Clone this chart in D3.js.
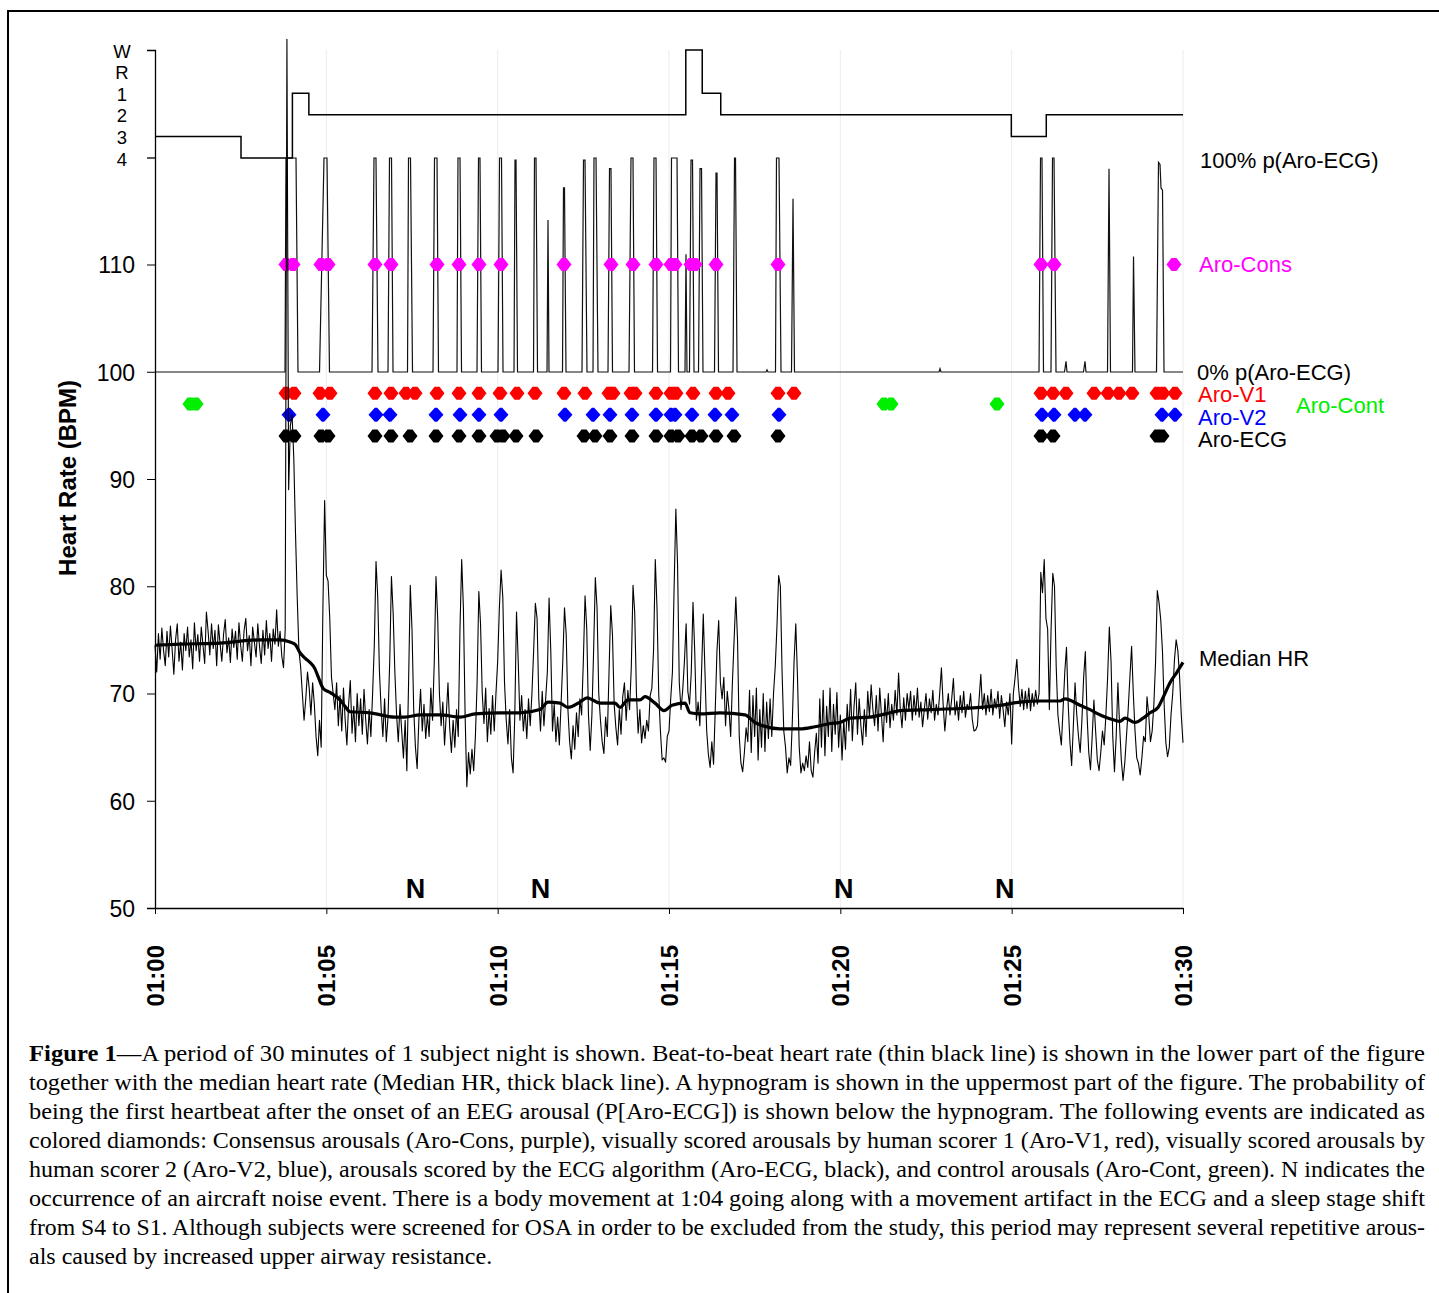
<!DOCTYPE html>
<html><head><meta charset="utf-8">
<script src="https://cdn.jsdelivr.net/npm/d3@7"></script>
<style>body{margin:0;background:#fff}svg{display:block}text{font-family:Arial,"Liberation Sans",sans-serif}</style>
</head><body><svg id="c" width="1439" height="1293"></svg>
<script>
// ---------------- DATA ----------------
const tickMinutes = [0,5,10,15,20,25,30];
const timeLabels = ["01:00","01:05","01:10","01:15","01:20","01:25","01:30"];
const hrTicks = [50,60,70,80,90,100,110];
const stages = ["W","R","1","2","3","4"];
// hypnogram: [minute after 01:00, stage] (step-after)
const hypnogram = [[0,"3"],[2.51,"4"],[4.01,"1"],[4.49,"2"],[15.49,"W"],[15.97,"1"],[16.51,"2"],[24.99,"3"],[26.01,"2"],[30,"2"]];
// probability p(Aro-ECG) in % : [minute, %]
const probECG = [[0,0],[3.794,0],[3.823,100],[4.115,100],[4.173,0],
 [4.801,0],[4.932,100],[5.019,100],[5.092,0],
 [6.333,0],[6.391,100],[6.449,100],[6.508,0],
 [6.800,0],[6.843,100],[6.902,100],[6.946,0],
 [7.369,0],[7.398,100],[7.456,100],[7.515,0],
 [8.113,0],[8.157,100],[8.230,100],[8.273,0],
 [8.813,0],[8.842,100],[8.901,100],[8.945,0],
 [9.397,0],[9.441,100],[9.484,100],[9.528,0],
 [10.010,0],[10.054,100],[10.112,100],[10.156,0],
 [10.477,0],[10.506,99],[10.535,99],[10.579,0],
 [11.046,0],[11.075,100],[11.119,100],[11.163,0],
 [11.440,0],[11.469,71],[11.498,0],
 [11.892,0],[11.921,86],[11.950,86],[11.994,0],
 [12.461,0],[12.505,99],[12.549,99],[12.607,0],
 [12.782,0],[12.811,100],[12.870,100],[12.928,0],
 [13.220,0],[13.264,95],[13.307,95],[13.351,0],
 [13.833,0],[13.891,100],[13.949,100],[13.993,0],
 [14.519,0],[14.562,100],[14.621,100],[14.665,0],
 [15.044,0],[15.073,100],[15.234,100],[15.277,0],
 [15.467,0],[15.496,55],[15.525,0],
 [15.598,0],[15.642,99],[15.686,99],[15.730,0],
 [15.861,0],[15.905,95],[15.949,95],[15.992,0],
 [16.328,0],[16.372,93],[16.401,93],[16.445,0],
 [16.868,0],[16.912,100],[16.941,100],[16.985,0],
 [17.831,0],[17.860,1],[17.889,0],
 [18.108,0],[18.137,100],[18.210,100],[18.269,0],
 [18.575,0],[18.619,81],[18.662,0],
 [22.879,0],[22.909,1.5],[22.938,0],
 [25.798,0],[25.842,100],[25.885,100],[25.929,0],
 [26.148,0],[26.192,100],[26.236,100],[26.294,0],
 [26.542,0],[26.586,5],[26.615,0],
 [27.096,0],[27.140,5],[27.169,0],
 [27.797,0],[27.841,95],[27.884,0],
 [28.526,0],[28.556,54],[28.599,0],
 [29.227,0],[29.285,98],[29.329,97],[29.358,86],[29.402,85],[29.446,0],[30,0]];
// arousal events (minute after 01:00)
const aroCons = [3.823,4.027,4.844,5.049,6.420,6.887,8.230,8.872,9.455,10.097,11.936,13.307,13.949,14.621,15.058,15.175,15.642,15.759,16.372,18.181,25.856,26.236,29.737];
const aroV1 = [3.823,4.056,4.815,5.107,6.420,6.887,7.325,7.588,8.230,8.872,9.455,10.068,10.564,11.090,11.936,12.549,13.249,13.366,13.891,14.008,14.621,15.058,15.204,15.700,16.372,16.722,18.181,18.648,25.856,26.206,26.586,27.403,27.811,28.132,28.512,29.241,29.416,29.767];
const aroV2 = [3.911,4.903,6.449,6.858,8.200,8.901,9.455,10.097,11.965,12.782,13.278,13.920,14.621,15.058,15.175,15.671,16.342,16.839,18.210,25.885,26.236,26.848,27.140,29.387,29.767];
const aroECG = [3.823,4.056,4.844,5.049,6.420,6.887,7.442,8.200,8.872,9.455,9.981,10.156,10.535,11.119,12.520,12.840,13.278,13.920,14.621,15.058,15.263,15.671,15.934,16.372,16.897,18.181,25.856,26.206,29.241,29.387];
const aroCont = [1.021,1.197,21.274,21.479,24.572];
// row levels (BPM) at which each event row is drawn
const rowLevels = {cons:110, v1:98, cont:97, v2:96, ecg:94};
// beat-to-beat heart rate, one row per minute, 20 samples (every 3 s)
const hrRows = [
[74.5,72.0,75.6,73.2,76.1,74.0,72.6,75.8,73.4,76.3,74.1,71.8,75.0,76.5,73.0,74.8,72.2,75.6,74.0,76.2],
[73.4,75.0,72.3,76.6,74.0,75.5,73.0,76.2,74.5,72.8,77.6,75.8,73.6,76.5,74.2,75.9,72.6,76.4,74.6,73.0],
[75.5,76.9,73.8,75.2,72.9,76.0,74.3,75.8,73.2,76.6,74.5,73.0,75.9,77.0,74.0,75.4,72.6,76.2,74.8,73.4],
[76.5,74.4,72.8,75.9,73.6,76.8,74.2,75.6,73.0,76.0,74.6,77.8,74.4,75.8,73.5,72.4,76.0,131,89,95],
[96,92,85,79,74,72.5,70,67.5,69.5,72,70.5,68,71,69,66,64.2,67.5,65,78,88],
[81,80.5,77,71.5,70,68.5,71,67,69.8,66.5,70.5,67.5,65.2,69,71.2,66.3,68.8,65.5,70,67],
[69.5,66.2,70.4,67.5,65.3,68.5,66.0,70.0,74.5,82.3,79,72,68.5,66.0,69.5,65.5,67.8,73,80.9,77.5],
[72,68,65.5,69,66.5,64.0,67.5,62.8,71,80.1,76,68.5,65,63,67.5,70.4,66.5,69,65.8,68],
[66,70.5,67.5,73,80.9,77,70,67,69.2,65.2,68,71,66.8,64.5,67.5,65,68.5,66,76,82.5],
[78,68,61.3,64.5,62.5,64.8,62.8,66,71,79.5,76.5,70,67.2,70.5,65.5,68.6,66.2,69.8,66.5,70],
[73,78,81.5,79,71,67.5,65.3,68.5,64,62.6,68,77.6,73,67.5,69.8,66.5,68.5,65.8,69.5,67],
[70,74,78.4,77,69.5,66.5,70.2,67,69.5,72,78.9,74,66.5,69,65.5,67.8,65.2,69,73,78],
[75.5,68.5,65.5,63.9,67,64.8,68.2,66,69.5,68,73,79.1,76,68,64.7,68,74,80.8,78,70],
[67.5,65.5,64.4,67.8,66,72,78.2,75.5,69,66.8,65.2,68.5,66.2,69.7,71,67.5,70.3,68.5,72.5,80.1],
[77.5,70,66.3,68.5,65.4,67,65.8,67.5,66.5,69.8,70.5,74.1,82.5,78,70,66.5,63.8,64,63.6,66],
[66.5,69.5,72,80,87.2,82,71,68.5,70.3,73,76.5,70.2,69,72,78.5,74,67.5,69.2,67,72],
[77.4,72,66.5,64.3,63.1,65.5,63.4,68.5,74,76.8,71,69.5,71.5,67,70.2,68.5,66,71,75,79],
[75,66,63.5,62.7,64.5,66.8,65.5,70.3,64.5,69.8,66,70.5,63.8,68.5,65,70,64.6,69.2,65.8,69.5],
[66,70,72.5,76.2,81,80,72,66.5,65,62.6,64,63.3,67.5,73,76.5,71.5,65,62.6,63.5,62.8],
[64.2,63.1,65.5,62.8,62.2,64.5,66.3,63.5,69.5,65,70.3,64.2,68.8,66,70.5,64.6,69,66.2,70.1,65],
[68,63.8,67.5,64.8,69,66.5,70.4,65.6,68.8,71,66.2,69.5,67,65.2,68.5,66,70.2,67.8,70.8,68.5],
[67,69.8,66.5,70.5,68,65.5,69.5,67.3,70,66.8,69,67.5,70.3,68,71.9,68.5,66.8,69.6,67.5,70],
[68.5,70.2,67.5,69.8,68,70.5,67.8,69.2,66.9,68.5,70,67.6,69.5,68.2,70.3,67.5,69,68,70,72.4],
[69,66.5,68.5,70,68,69.5,71.4,68,69.3,67.5,69.8,68.2,70.2,67.8,69,68.5,70,67.6,66.5,66.6],
[67,69.5,71.8,68.5,70,68,69.8,68.3,70.4,68,69.5,68.6,70.2,67.7,69.8,68.5,66.9,69.2,68,70],
[65.3,70,71.5,73.2,70.6,68.8,70.4,68.5,70.2,68.6,70.5,68.4,70,68.8,70.3,69,70,81.3,79.4,82.5],
[77,76,68.5,76,81.2,80,72.5,68,66.5,65.2,68.5,72,74.3,69,65.5,63.3,67,71,68,66],
[64.5,67.5,71.5,73.9,68,64.5,62.9,66,69.4,66.5,63.8,62.8,64.5,66.5,65.2,68,71.5,76.2,73,66],
[62.7,66,71,67,63.8,61.9,63.5,66,68.5,71.5,74.4,70,66.5,64,63.5,62.4,64,66,65.5,69.7],
[68,65.5,66.5,69,73,79.6,78.5,76.9,74,69,65.4,64.1,65,68,70,73.1,75,74,71.6,68]
];
const hrLast = 65.4;
// median heart rate: [minute, BPM]
const medianHR = [[0,74.5],[0.73,74.6],[1.897,74.7],[3.064,75.0],[3.648,75.0],[3.94,74.8],[4.086,74.6],[4.232,73.8],[4.377,73.3],[4.523,72.9],[4.669,72.3],[4.757,71.6],[4.903,70.5],[5.107,70.1],[5.399,69.4],[5.545,68.8],[5.691,68.3],[6.274,68.2],[7.004,67.8],[7.296,67.8],[7.733,68.0],[8.317,68.0],[8.901,67.8],[9.339,68.1],[10.068,68.2],[10.652,68.2],[11.235,68.5],[11.469,69.2],[11.819,69.1],[12.053,68.7],[12.403,69.2],[12.607,69.6],[12.986,69.1],[13.424,69.1],[13.57,68.7],[13.804,69.4],[14.154,69.4],[14.3,69.7],[14.592,69.1],[14.854,68.4],[15.088,68.9],[15.467,69.1],[15.613,68.2],[15.905,68.1],[16.488,68.2],[17.218,68.0],[17.51,67.3],[18.239,66.7],[18.823,66.7],[19.261,66.9],[19.699,67.2],[19.99,67.3],[20.282,67.7],[20.866,67.8],[21.45,68.2],[21.741,68.4],[22.617,68.5],[23.492,68.6],[24.66,68.9],[25.243,69.2],[25.827,69.3],[26.411,69.3],[26.557,69.5],[26.994,68.9],[27.286,68.5],[27.52,68.1],[27.724,67.8],[28.016,67.5],[28.162,67.4],[28.308,67.7],[28.599,67.3],[28.833,67.7],[29.037,68.2],[29.27,68.7],[29.416,69.6],[29.62,71.0],[29.825,72.0],[30,72.9]];
const noiseEvents = [7.6, 11.25, 20.1, 24.8];
const captionLines = [
"Figure 1\u2014A period of 30 minutes of 1 subject night is shown. Beat-to-beat heart rate (thin black line) is shown in the lower part of the figure",
"together with the median heart rate (Median HR, thick black line). A hypnogram is shown in the uppermost part of the figure. The probability of",
"being the first heartbeat after the onset of an EEG arousal (P[Aro-ECG]) is shown below the hypnogram. The following events are indicated as",
"colored diamonds: Consensus arousals (Aro-Cons, purple), visually scored arousals by human scorer 1 (Aro-V1, red), visually scored arousals by",
"human scorer 2 (Aro-V2, blue), arousals scored by the ECG algorithm (Aro-ECG, black), and control arousals (Aro-Cont, green). N indicates the",
"occurrence of an aircraft noise event. There is a body movement at 1:04 going along with a movement artifact in the ECG and a sleep stage shift",
"from S4 to S1. Although subjects were screened for OSA in order to be excluded from the study, this period may represent several repetitive arous-",
"als caused by increased upper airway resistance."];

// ---------------- CHART ----------------
const svg = d3.select("#c");
const x = d3.scaleLinear().domain([0,30]).range([155,1183]);
const yHR = d3.scaleLinear().domain([50,130]).range([908,50]);
const yP = d3.scaleLinear().domain([0,100]).range([372,158]);
const yS = d3.scalePoint().domain(stages).range([50,158]);

// frame
svg.append("path").attr("d","M8,1293V11H1439").attr("fill","none").attr("stroke","#000").attr("stroke-width",2);

// faint grid
svg.append("g").selectAll("line").data(tickMinutes.slice(1)).join("line")
  .attr("x1",d=>x(d)).attr("x2",d=>x(d)).attr("y1",yHR(130)).attr("y2",yHR(50))
  .attr("stroke","#ececec").attr("stroke-width",1);

// probability curve
svg.append("path").datum(probECG)
  .attr("d",d3.line().x(d=>x(d[0])).y(d=>yP(d[1])))
  .attr("fill","none").attr("stroke","#111").attr("stroke-width",1.2);

// hypnogram
svg.append("path").datum(hypnogram)
  .attr("d",d3.line().curve(d3.curveStepAfter).x(d=>x(d[0])).y(d=>yS(d[1])))
  .attr("fill","none").attr("stroke","#000").attr("stroke-width",1.5);

// markers
const hexPath = "M-7.5,0L-2.5,-6.5L2.5,-6.5L7.5,0L2.5,6.5L-2.5,6.5Z";
const diaPath = "M-7.5,0L-1.2,-7L1.2,-7L7.5,0L1.2,7L-1.2,7Z";
const markerSets = [
  {data:aroCons, level:rowLevels.cons, color:"#ff00ff", shape:hexPath},
  {data:aroV1, level:rowLevels.v1, color:"#ff0000", shape:hexPath},
  {data:aroV2, level:rowLevels.v2, color:"#0000ff", shape:diaPath},
  {data:aroECG, level:rowLevels.ecg, color:"#000000", shape:hexPath},
  {data:aroCont, level:rowLevels.cont, color:"#00ee00", shape:hexPath}
];
markerSets.forEach(s=>{
  svg.append("g").selectAll("path").data(s.data).join("path")
    .attr("d",s.shape).attr("fill",s.color)
    .attr("transform",d=>`translate(${x(d)},${yHR(s.level)})`);
});

// heart rate
const hrData = [];
hrRows.forEach((row,k)=>row.forEach((v,j)=>hrData.push([k+j*0.05,v])));
hrData.push([30,hrLast]);
svg.append("path").datum(hrData)
  .attr("d",d3.line().x(d=>x(d[0])).y(d=>yHR(d[1])))
  .attr("fill","none").attr("stroke","#000").attr("stroke-width",1.1).attr("stroke-linejoin","round");
svg.append("path").datum(medianHR)
  .attr("d",d3.line().curve(d3.curveMonotoneX).x(d=>x(d[0])).y(d=>yHR(d[1])))
  .attr("fill","none").attr("stroke","#000").attr("stroke-width",3.2).attr("stroke-linejoin","round");

// axes
const ax = svg.append("g").attr("transform","translate(0,908)")
  .call(d3.axisBottom(x).tickValues(tickMinutes).tickFormat((d,i)=>timeLabels[i]).tickSize(6).tickSizeOuter(0));
ax.select(".domain").attr("stroke-width",1.3);
ax.selectAll("text").attr("transform","rotate(-90)").attr("text-anchor","end")
  .attr("x",-37).attr("y",0).attr("dy","0.36em")
  .attr("font-size",24).attr("font-weight","bold").attr("fill","#000");

const ay = svg.append("g").attr("transform","translate(155,0)")
  .call(d3.axisLeft(yHR).tickValues(hrTicks).tickSize(8).tickPadding(12));
ay.select(".domain").attr("stroke-width",1.3);
ay.selectAll("text").attr("font-size",23).attr("fill","#000").attr("dy","0.36em");

// hypnogram stage labels + tick at stage 4
svg.append("g").selectAll("text").data(stages).join("text")
  .attr("x",122).attr("y",d=>yS(d)+1).attr("dy","0.36em").attr("text-anchor","middle")
  .attr("font-size",18.5).text(d=>d);
svg.append("line").attr("x1",147).attr("x2",155).attr("y1",yS("4")).attr("y2",yS("4")).attr("stroke","#000").attr("stroke-width",1.3);

// y-axis title
svg.append("text").attr("transform",`translate(67,${yHR(90.1)}) rotate(-90)`)
  .attr("text-anchor","middle").attr("dy","0.36em")
  .attr("font-size",24).attr("font-weight","bold").text("Heart Rate (BPM)");

// right-hand labels
const rightLabels = [
  {t:"100% p(Aro-ECG)", x:1200, y:yP(100)+2, c:"#000"},
  {t:"Aro-Cons", x:1199, y:yHR(110), c:"#ff00ff"},
  {t:"0% p(Aro-ECG)", x:1197, y:yP(0), c:"#000"},
  {t:"Aro-V1", x:1198, y:yHR(97.9), c:"#ff0000"},
  {t:"Aro-V2", x:1198, y:yHR(95.8), c:"#0000ff"},
  {t:"Aro-ECG", x:1198, y:yHR(93.7), c:"#000"},
  {t:"Aro-Cont", x:1296, y:yHR(96.9), c:"#00ee00"},
  {t:"Median HR", x:1199, y:yHR(73.3), c:"#000"}
];
svg.append("g").selectAll("text").data(rightLabels).join("text")
  .attr("x",d=>d.x).attr("y",d=>d.y).attr("dy","0.36em").attr("font-size",22)
  .attr("fill",d=>d.c).text(d=>d.t);

// noise event markers
svg.append("g").selectAll("text").data(noiseEvents).join("text")
  .attr("x",d=>x(d)).attr("y",yHR(50)-10).attr("text-anchor","middle")
  .attr("font-size",27).attr("font-weight","bold").text("N");

// caption
const capG = svg.append("g").attr("font-size",24);
captionLines.forEach((ln,i)=>{
  const t = capG.append("text").attr("x",29).attr("y",1061+i*29)
    .style("font-family","'Liberation Serif','Times New Roman',serif");
  if(i===0){
    t.append("tspan").attr("font-weight","bold").text("Figure 1");
    t.append("tspan").text(ln.slice(8));
  } else t.text(ln);
  if(i<captionLines.length-1){
    const w = t.node().getComputedTextLength();
    t.attr("textLength",1396).attr("lengthAdjust","spacingAndGlyphs");
  }
});
</script></body></html>
